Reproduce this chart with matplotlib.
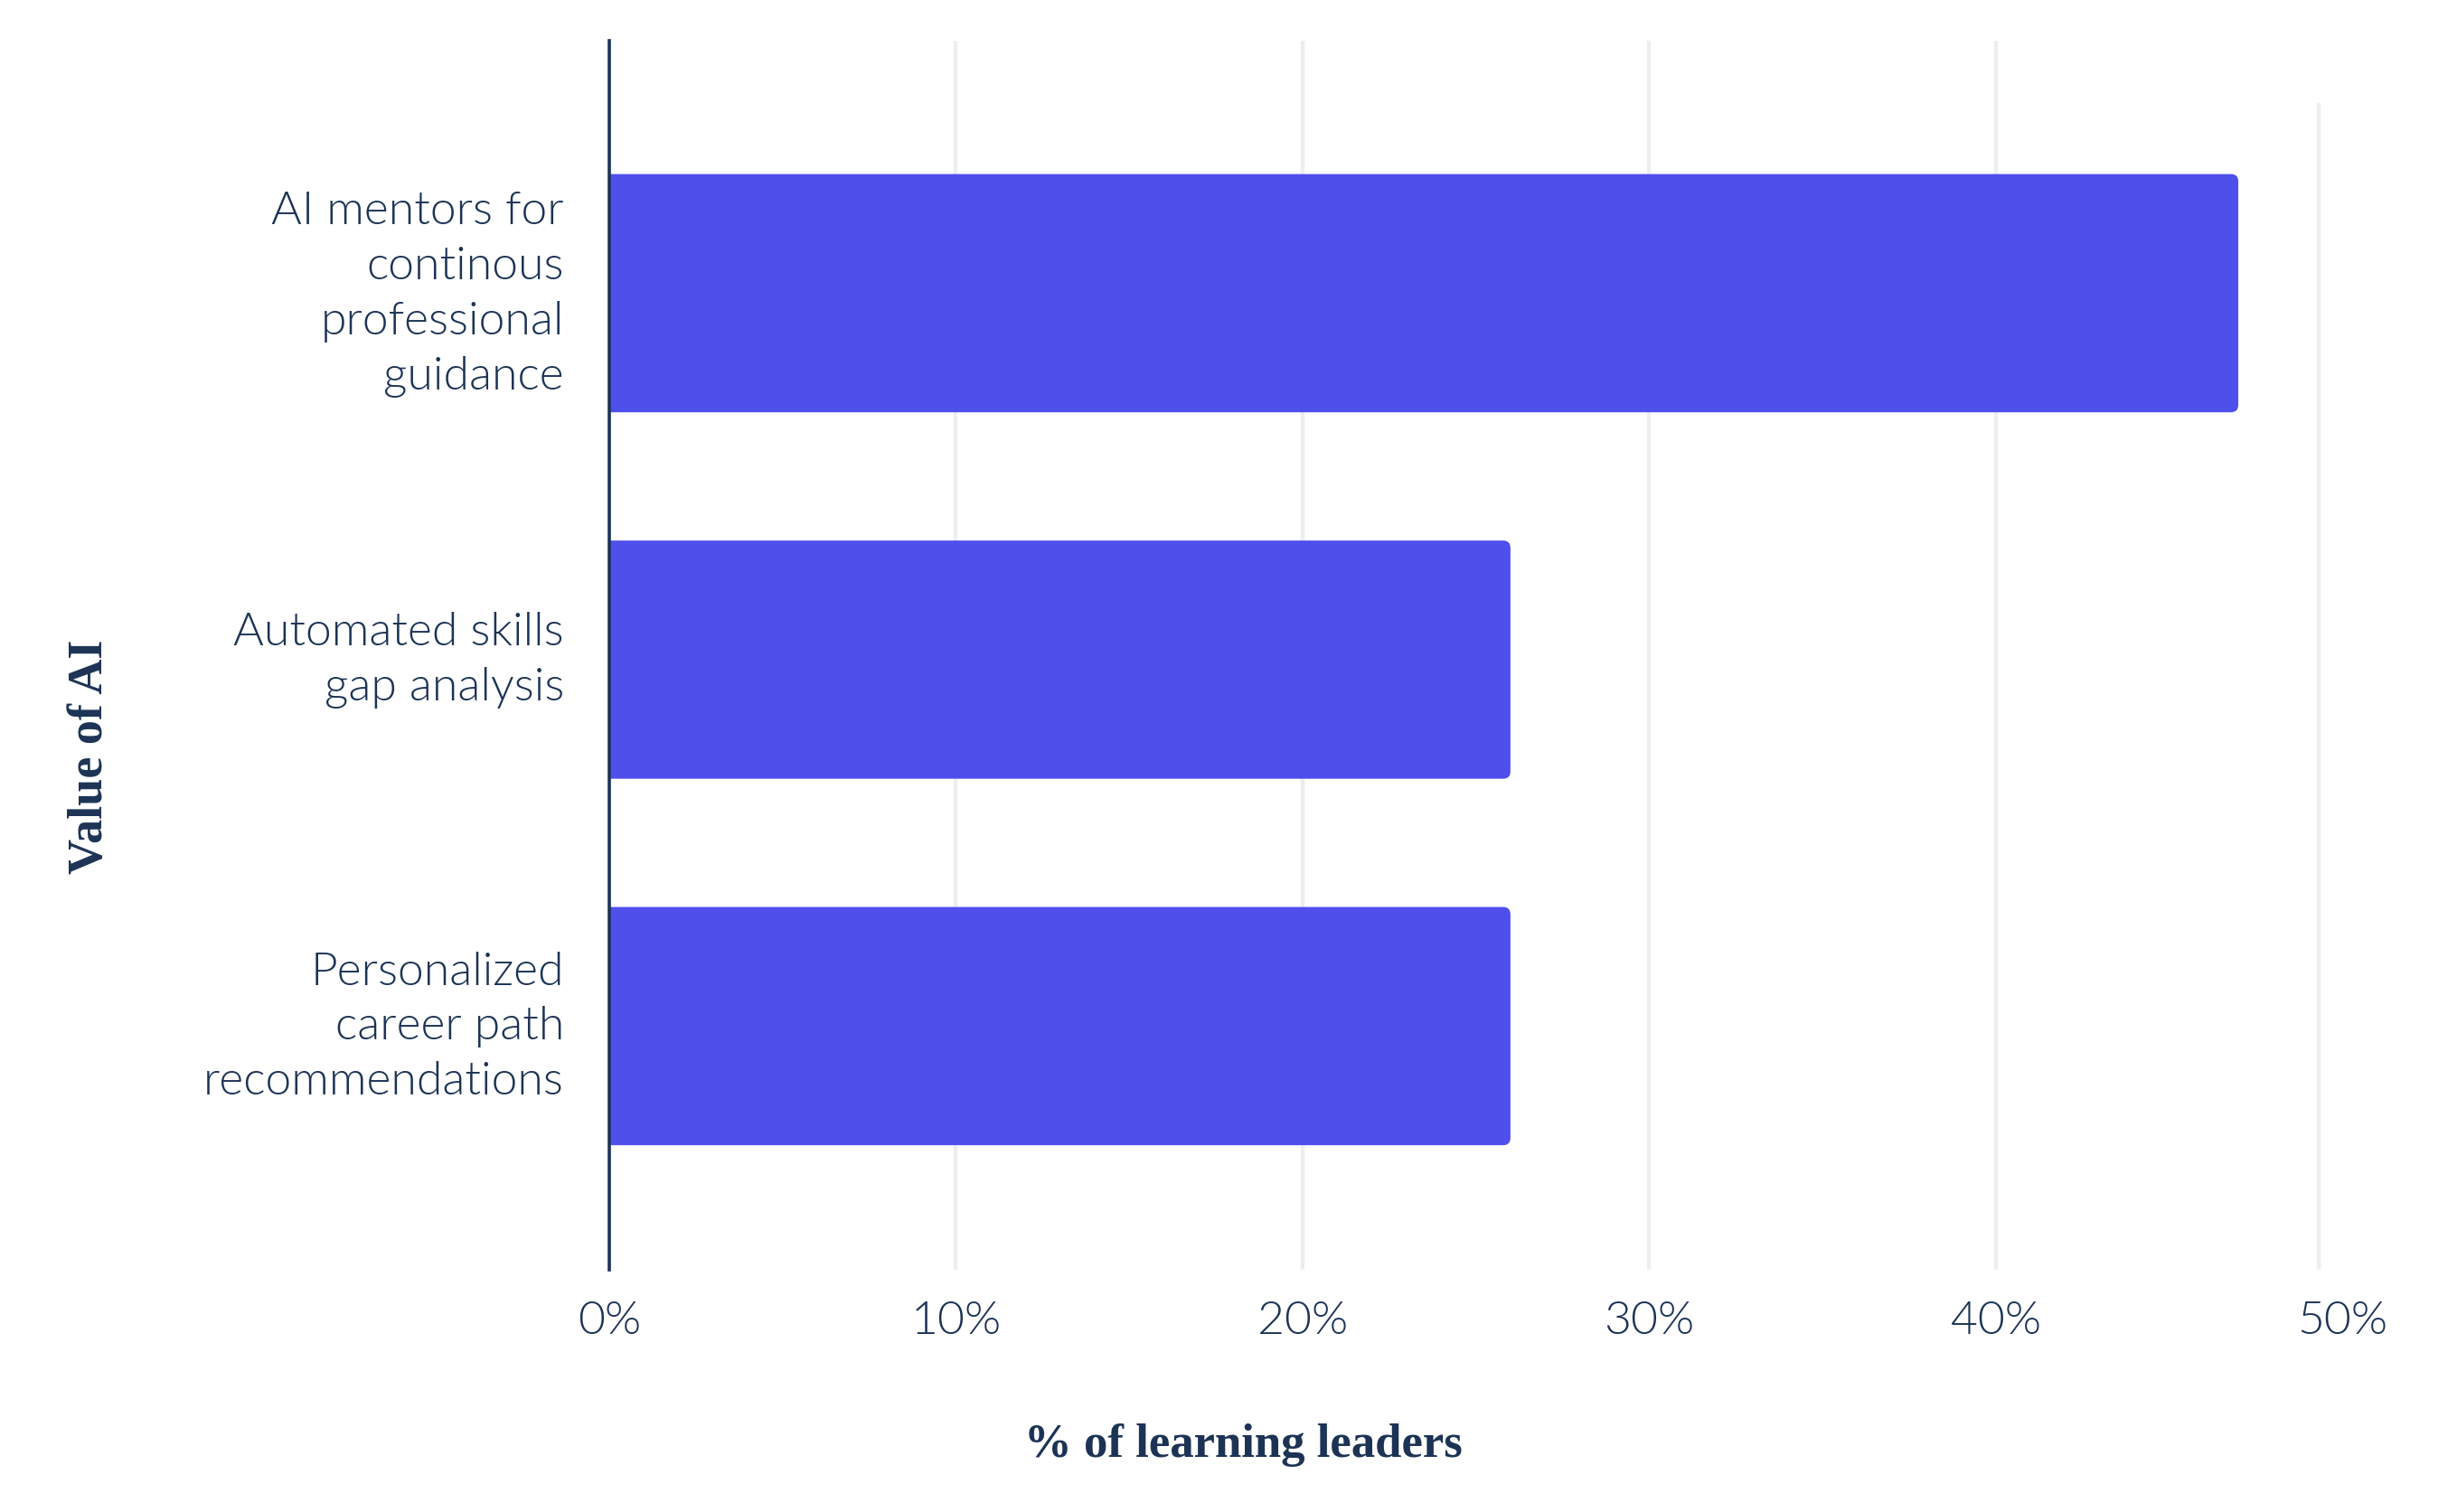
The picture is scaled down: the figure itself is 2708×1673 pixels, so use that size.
import matplotlib.pyplot as plt
from matplotlib.patches import FancyBboxPatch

# chart data
categories = ["AI mentors for\ncontinous\nprofessional\nguidance",
              "Automated skills\ngap analysis",
              "Personalized\ncareer path\nrecommendations"]
values = [47, 26, 26]
ticks = [0, 10, 20, 30, 40, 50]
tick_labels = ["0%", "10%", "20%", "30%", "40%", "50%"]

bar_color = "#4f4fec"
text_color = "#1c3355"
grid_color = "#eeeeee"

fig = plt.figure(figsize=(13.54, 8.37), dpi=200)
ax = fig.add_axes([0.2489, 0.1601, 0.9568 - 0.2489, 0.9725 - 0.1601])

pos = list(range(len(categories)))
bars = ax.barh(pos, values, height=0.65, color=bar_color, zorder=3)

# swap plain bars for ones with slightly rounded right corners
for r in bars:
    r.set_visible(False)
    x0, y0, w, h = r.get_x(), r.get_y(), r.get_width(), r.get_height()
    p = FancyBboxPatch((x0 - 0.5, y0), w + 0.5, h,
                       boxstyle="round,pad=0,rounding_size=0.21",
                       mutation_aspect=0.094, fc=bar_color, ec="none",
                       zorder=3, clip_on=True)
    ax.add_patch(p)

ax.set_xlim(0, 50)
ax.set_ylim(2.665, -0.689)
ax.set_yticks(pos)
ax.set_yticklabels(categories, fontsize=18.6, family="Lato", fontweight=300,
                   color=text_color, linespacing=1.4, ha="right", va="center")
ax.set_xticks(ticks)
ax.set_xticklabels(tick_labels, fontsize=18.6, family="Lato", fontweight=300,
                   color=text_color)
ax.tick_params(axis="both", length=0)
ax.tick_params(axis="y", pad=18)
ax.tick_params(axis="x", pad=12)

for t in ticks[1:-1]:
    ax.axvline(t, color=grid_color, lw=1.6, zorder=1)
# last gridline sits a little inside the frame and starts lower
ax.axvline(49.32, ymax=0.948, color=grid_color, lw=1.6, zorder=1)

for s in ["top", "right", "bottom"]:
    ax.spines[s].set_visible(False)
ax.spines["left"].set_color(text_color)
ax.spines["left"].set_linewidth(1.3)
ax.spines["left"].set_zorder(4)

fig.text(0.508, 0.037, "% of learning leaders", ha="center", va="baseline",
         fontsize=19, family="Liberation Serif", fontweight="bold", color=text_color)
fig.text(0.037, 0.5, "Value of AI", ha="center", va="center", rotation=90,
         fontsize=19.5, family="Liberation Serif", fontweight="bold", color=text_color)

fig.savefig("out.png", dpi=200, facecolor="white")
